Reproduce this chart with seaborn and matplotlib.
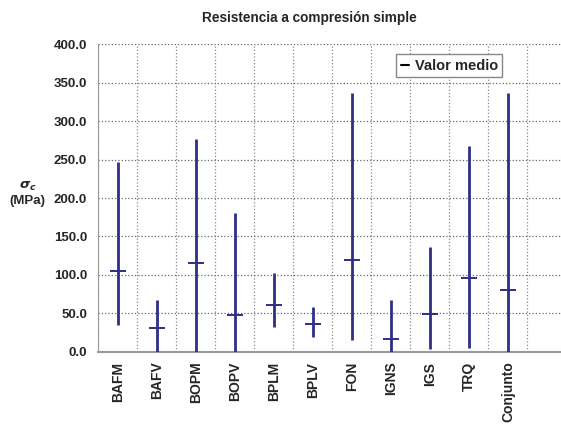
import numpy as np
import pandas as pd
import matplotlib
matplotlib.use("Agg")
import matplotlib.pyplot as plt
import seaborn as sns
from matplotlib.lines import Line2D

# datos
litologias = ["BAFM", "BAFV", "BOPM", "BOPV", "BPLM", "BPLV", "FON", "IGNS", "IGS", "TRQ", "Conjunto"]
minimo = [35, 0, 0, 0, 32, 20, 15, 0, 4, 5, 0]
maximo = [247, 68, 277, 180, 103, 58, 336, 67, 136, 267, 336]
medio = [105, 31, 115, 48, 61, 36, 120, 17, 49, 96, 81]

color = "#2e2f85"

sns.set_style("white")
plt.rcParams["font.family"] = ["Liberation Sans", "DejaVu Sans"]
plt.rcParams["font.weight"] = "bold"

df = pd.DataFrame({"litologia": litologias, "min": minimo, "max": maximo, "medio": medio})
df["x"] = np.arange(len(df))

fig = plt.figure(figsize=(5.61, 4.24), dpi=100)
ax = fig.add_axes([0.175, 0.170, 0.825, 0.726])

# rangos min-max
ax.vlines(df["x"], df["min"], df["max"], color=color, lw=2.0, zorder=3)
# valor medio
sns.scatterplot(data=df, x="x", y="medio", marker="_", s=130, linewidth=1.4,
                color=color, ax=ax, zorder=4, legend=False)

ax.set_xlim(-0.5, 11.36)
ax.set_ylim(0, 400)
ax.set_yticks(np.arange(0, 401, 50))
ax.set_yticklabels([f"{v:.1f}" for v in np.arange(0, 401, 50)], fontsize=9.5, fontweight="bold")
ax.set_xticks(df["x"])
ax.set_xticklabels(df["litologia"], rotation=90, fontsize=10, fontweight="bold")
ax.tick_params(axis="x", length=0, pad=7)
ax.set_xticks(np.arange(-0.5, 11.5, 1), minor=True)
ax.tick_params(axis="x", which="minor", length=8, color="#888888", direction="out")
ax.tick_params(axis="y", length=5, color="#888888", direction="out", pad=3)

ax.grid(False)
ax.yaxis.grid(True, linestyle=":", color="#666666", lw=0.9)
ax.xaxis.grid(True, which="minor", linestyle=":", color="#888888", lw=0.9)
ax.set_axisbelow(True)

for s in ["top", "right"]:
    ax.spines[s].set_visible(False)
ax.spines["left"].set_color("#999999")
ax.spines["bottom"].set_color("#999999")
ax.spines["bottom"].set_linewidth(1.5)

ax.set_xlabel("")
ax.set_ylabel("$\\sigma_c$\n(MPa)", rotation=0, fontsize=9.5, fontweight="bold")
ax.yaxis.set_label_coords(-0.152, 0.47)

fig.text(0.551, 0.958, "Resistencia a compresión simple", ha="center", va="center",
         fontsize=9.8, fontweight="bold")

handle = Line2D([], [], color="black", lw=1.5)
leg = ax.legend([handle], ["Valor medio"], loc="upper right", bbox_to_anchor=(0.873, 0.967),
                borderaxespad=0, handlelength=0.6, handletextpad=0.35, fancybox=False,
                framealpha=1, edgecolor="#888888", prop={"weight": "bold", "size": 10.5},
                borderpad=0.3)
leg.get_frame().set_linewidth(1.0)

fig.savefig("out.png", dpi=100)
